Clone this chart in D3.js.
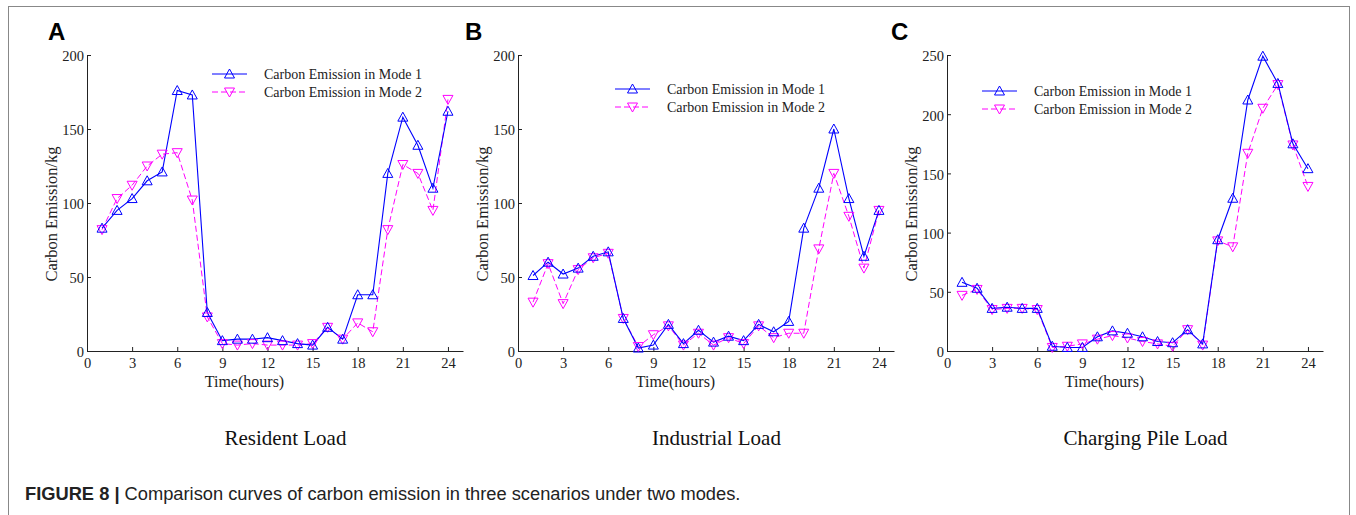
<!DOCTYPE html>
<html>
<head>
<meta charset="utf-8">
<script src="https://cdn.jsdelivr.net/npm/d3@7"></script>
<style>
  body { margin: 0; background: #fff; }
  svg text { font-family: "Liberation Serif", "Times New Roman", serif; }
</style>
</head>
<body>
<svg id="fig" width="1356" height="515"></svg>
<script>
// hours 1..24
var hours = d3.range(1, 25);

// Resident load
var residentMode1 = [83, 95, 103, 115, 121, 176, 173, 26, 7, 8, 8, 9, 7, 5, 4, 16, 8, 38, 38, 120, 158, 139, 110, 162];
var residentMode2 = [82, 103, 112, 125, 133, 134, 102, 23, 5, 4, 5, 4, 4, 4, 5, 16, 8, 19, 13, 82, 126, 120, 95, 170];

// Industrial load
var industrialMode1 = [51, 60, 52, 56, 64, 67, 22, 2, 4, 18, 5, 14, 6, 10, 7, 18, 13, 20, 83, 110, 150, 103, 64, 95];
var industrialMode2 = [33, 59, 32, 55, 63, 66, 22, 3, 11, 17, 4, 12, 4, 9, 5, 17, 9, 12, 12, 69, 120, 91, 56, 95];

// Charging pile load
var pileMode1 = [58, 53, 36, 37, 36, 36, 4, 3, 3, 12, 17, 15, 12, 8, 7, 18, 6, 94, 129, 212, 249, 226, 175, 154];
var pileMode2 = [47, 52, 35, 36, 36, 35, 3, 4, 6, 10, 13, 11, 8, 6, 4, 18, 5, 93, 88, 167, 205, 225, 174, 139];

var xTicks = [0, 3, 6, 9, 12, 15, 18, 21, 24];
var seriesNames = ['Carbon Emission in Mode 1', 'Carbon Emission in Mode 2'];

var panels = [
  {letter: 'A', title: 'Resident Load', m1: residentMode1, m2: residentMode2, ymax: 200, yTicks: [0, 50, 100, 150, 200],
   left: 87, letterX: 48, legend: [212, 74]},
  {letter: 'B', title: 'Industrial Load', m1: industrialMode1, m2: industrialMode2, ymax: 200, yTicks: [0, 50, 100, 150, 200],
   left: 518, letterX: 465, legend: [615, 89]},
  {letter: 'C', title: 'Charging Pile Load', m1: pileMode1, m2: pileMode2, ymax: 250, yTicks: [0, 50, 100, 150, 200, 250],
   left: 947, letterX: 891, legend: [982, 91]}
];

var svg = d3.select('#fig');
var blue = '#0000ff', magenta = '#ff00ff';
var plotTop = 55, plotBottom = 351;

// outer frame
svg.append('rect').attr('x', 8.5).attr('y', 6.5).attr('width', 1341).attr('height', 520)
  .attr('fill', 'none').attr('stroke', '#888').attr('stroke-width', 1);

var upTri = 'M0,-5L5,4L-5,4Z';
var downTri = 'M0,5L5,-4L-5,-4Z';

panels.forEach(function(p) {
  var x = d3.scaleLinear().domain([0, 25]).range([p.left, p.left + 25 * 15.04]);
  var y = d3.scaleLinear().domain([0, p.ymax]).range([plotBottom, plotTop]);
  var g = svg.append('g');

  // axes with inward ticks
  var xAxis = g.append('g').attr('transform', 'translate(0,' + plotBottom + ')')
    .call(d3.axisBottom(x).tickValues(xTicks).tickSize(-4).tickPadding(7).tickSizeOuter(0));
  var yAxis = g.append('g').attr('transform', 'translate(' + p.left + ',0)')
    .call(d3.axisLeft(y).tickValues(p.yTicks).tickSize(-4).tickPadding(3).tickSizeOuter(0));
  [xAxis, yAxis].forEach(function(a) {
    a.select('.domain').attr('stroke', '#222');
    a.selectAll('.tick line').attr('stroke', '#222');
    a.selectAll('text').attr('font-family', '"Liberation Serif", serif').attr('font-size', 14.5).attr('fill', '#222');
  });
  yAxis.selectAll('text').attr('dy', '0.4em');

  // letter
  svg.append('text').attr('x', p.letterX).attr('y', 40).text(p.letter)
    .style('font-family', '"Liberation Sans", Arial, sans-serif').attr('font-weight', 'bold').attr('font-size', 24);

  // axis titles
  g.append('text').attr('transform', 'translate(' + (p.left - 30) + ',' + ((plotTop + plotBottom) / 2 + 11) + ') rotate(-90)')
    .attr('text-anchor', 'middle').attr('font-size', 16.5).attr('fill', '#222').text('Carbon Emission/kg');
  g.append('text').attr('x', x(12) - 23).attr('y', 387).attr('text-anchor', 'middle')
    .attr('font-size', 16).attr('fill', '#222').text('Time(hours)');

  // panel title
  g.append('text').attr('x', x(12) + 18).attr('y', 445).attr('text-anchor', 'middle')
    .attr('font-size', 21).attr('fill', '#111').text(p.title);

  var line = d3.line().x(function(d, i) { return x(hours[i]); }).y(function(d) { return y(d); });

  g.append('path').datum(p.m2).attr('d', line).attr('fill', 'none')
    .attr('stroke', magenta).attr('stroke-width', 1).attr('stroke-dasharray', '6,3');
  g.append('path').datum(p.m1).attr('d', line).attr('fill', 'none')
    .attr('stroke', blue).attr('stroke-width', 1.1);

  g.selectAll('.m2').data(p.m2).enter().append('path').attr('class', 'm2')
    .attr('transform', function(d, i) { return 'translate(' + x(hours[i]) + ',' + y(d) + ')'; })
    .attr('d', downTri).attr('fill', 'none').attr('stroke', magenta).attr('stroke-width', 1);
  g.selectAll('.m1').data(p.m1).enter().append('path').attr('class', 'm1')
    .attr('transform', function(d, i) { return 'translate(' + x(hours[i]) + ',' + y(d) + ')'; })
    .attr('d', upTri).attr('fill', 'none').attr('stroke', blue).attr('stroke-width', 1);

  // legend
  var lg = g.append('g').attr('transform', 'translate(' + p.legend[0] + ',' + p.legend[1] + ')');
  [[blue, null, upTri], [magenta, '6,3', downTri]].forEach(function(s, i) {
    var row = lg.append('g').attr('transform', 'translate(0,' + (i * 18) + ')');
    row.append('line').attr('x1', 0).attr('x2', 35).attr('stroke', s[0]).attr('stroke-width', 1)
      .attr('stroke-dasharray', s[1]);
    row.append('path').attr('transform', 'translate(17.5,0)').attr('d', s[2])
      .attr('fill', 'none').attr('stroke', s[0]);
    row.append('text').attr('x', 52).attr('y', 5).attr('font-size', 14).attr('fill', '#222').text(seriesNames[i]);
  });
});

// caption
var cap = svg.append('text').attr('x', 25).attr('y', 500)
  .style('font-family', '"Liberation Sans", Arial, sans-serif').attr('font-size', 18.3).attr('fill', '#222');
cap.append('tspan').attr('font-weight', 'bold').text('FIGURE 8 | ');
cap.append('tspan').text('Comparison curves of carbon emission in three scenarios under two modes.');
</script>
</body>
</html>
